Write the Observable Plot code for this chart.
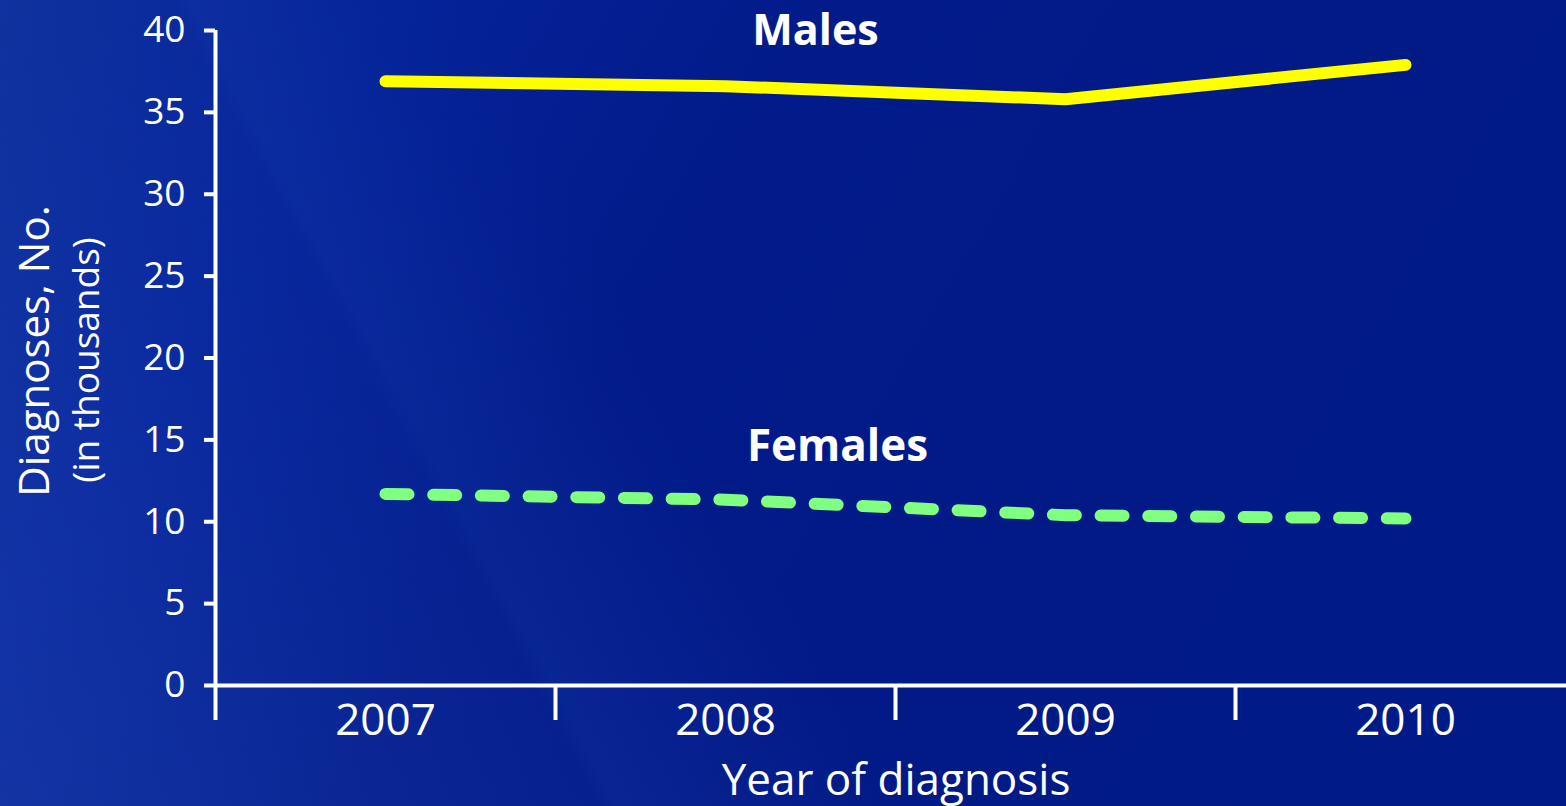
<!DOCTYPE html>
<html>
<head>
<meta charset="utf-8">
<script src="https://cdn.jsdelivr.net/npm/d3@7"></script>
<script src="https://cdn.jsdelivr.net/npm/@observablehq/plot@0.6"></script>
<style>
  html, body { margin: 0; padding: 0; }
  body {
    width: 1566px; height: 806px; overflow: hidden;
    background:
      linear-gradient(58deg, rgba(60,100,200,0.28) 0%, rgba(40,80,190,0.18) 22%, rgba(0,0,0,0) 42%),
      linear-gradient(62deg, rgba(0,0,0,0) 30%, rgba(30,70,180,0.12) 31%, rgba(0,0,0,0) 45%),
      linear-gradient(120deg, #0a2c98 0%, #05239a 18%, #021b8a 40%, #011a86 70%, #001b88 100%);
    font-family: "Open Sans", sans-serif;
  }
  #chart svg { display: block; }
</style>
</head>
<body>
<div id="chart"></div>
<script>
const years = [2007, 2008, 2009, 2010];
const males = [36.9, 36.6, 35.8, 37.9];
const females = [11.7, 11.35, 10.4, 10.2];
const yTicks = [0, 5, 10, 15, 20, 25, 30, 35, 40];
const bandEdges = [2006.5, 2007.5, 2008.5, 2009.5];
const xDomain = [2006.5, 2010.5];
const yDomain = [0, 40];
const seriesLabels = ["Males", "Females"];
const xTitle = "Year of diagnosis";
const yTitle = "Diagnoses, No.";
const ySubTitle = "(in thousands)";

const maleData = years.map((year, i) => ({year, value: males[i], series: seriesLabels[0]}));
const femaleData = years.map((year, i) => ({year, value: females[i], series: seriesLabels[1]}));

const chart = Plot.plot({
  width: 1566,
  height: 806,
  marginLeft: 215,
  marginRight: 0,
  marginTop: 30,
  marginBottom: 121,
  style: {background: "transparent", color: "white", fontFamily: "'Open Sans', sans-serif", overflow: "visible"},
  x: {domain: xDomain, range: [215, 1575]},
  y: {domain: yDomain, range: [685, 30]},
  marks: [
    // y axis ticks and labels
    Plot.axisY({ticks: yTicks, tickSize: 11, tickPadding: 19, fontSize: 37, strokeWidth: 4, stroke: "white", fill: "white", label: null}),
    // x axis boundary tick marks
    Plot.axisX({ticks: bandEdges, tickSize: 35, tickFormat: () => "", strokeWidth: 4, stroke: "white", label: null}),
    // x axis year labels
    Plot.axisX({ticks: years, tickSize: 0, tickPadding: 18, fontSize: 44, tickFormat: d => String(d), fill: "white", label: null}),
    // axis lines
    Plot.ruleY([yDomain[0]], {stroke: "white", strokeWidth: 4}),
    Plot.ruleX([xDomain[0]], {y1: yDomain[0], y2: yDomain[1], stroke: "white", strokeWidth: 4}),
    // series
    Plot.line(maleData, {x: "year", y: "value", stroke: "#ffff00", strokeWidth: 12, strokeLinecap: "round", strokeLinejoin: "round"}),
    Plot.line(femaleData, {x: "year", y: "value", stroke: "#80ff80", strokeWidth: 12, strokeLinecap: "round", strokeLinejoin: "round", strokeDasharray: "23,24.7"}),
    // series labels
    Plot.text(maleData.filter(d => d.year === years[1]), {x: "year", y: "value", text: "series", dx: 90, dy: -55, fontSize: 43, fontWeight: "bold", fill: "white"}),
    Plot.text(femaleData.filter(d => d.year === years[1]), {x: "year", y: "value", text: "series", dx: 112, dy: -53, fontSize: 44, fontWeight: "bold", fill: "white"}),
    // axis titles
    Plot.text([xTitle], {frameAnchor: "bottom", textAnchor: "middle", dx: 5, dy: 109, fontSize: 44, fill: "white"}),
    Plot.text([yTitle], {frameAnchor: "left", textAnchor: "middle", rotate: -90, dx: -180, dy: -7, fontSize: 42, fill: "white"}),
    Plot.text([ySubTitle], {frameAnchor: "left", textAnchor: "middle", rotate: -90, dx: -128, dy: 2, fontSize: 37, fill: "white"})
  ]
});
document.getElementById("chart").appendChild(chart);
</script>
</body>
</html>
